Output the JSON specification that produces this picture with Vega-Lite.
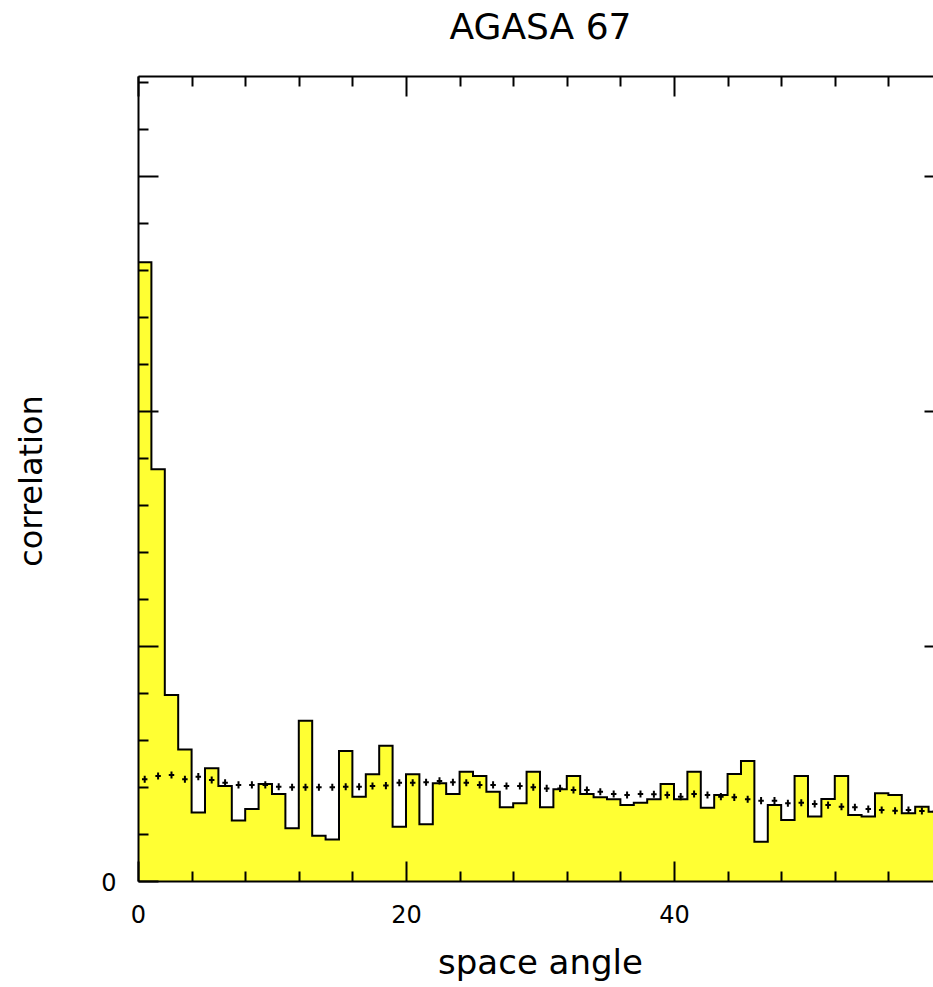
{
  "$schema": "https://vega.github.io/schema/vega-lite/v6.json",
  "autosize": "none",
  "width": 795,
  "height": 805,
  "padding": {"left": 138, "top": 76, "right": 0, "bottom": 106},
  "background": "white",
  "config": {"view": {"stroke": null}},
  "datasets": {
    "hist": [
      {"a": 0, "c": 2.633}, {"a": 1, "c": 1.752}, {"a": 2, "c": 0.791}, {"a": 3, "c": 0.560},
      {"a": 4, "c": 0.291}, {"a": 5, "c": 0.480}, {"a": 6, "c": 0.404}, {"a": 7, "c": 0.257},
      {"a": 8, "c": 0.306}, {"a": 9, "c": 0.413}, {"a": 10, "c": 0.370}, {"a": 11, "c": 0.224},
      {"a": 12, "c": 0.682}, {"a": 13, "c": 0.193}, {"a": 14, "c": 0.177}, {"a": 15, "c": 0.553},
      {"a": 16, "c": 0.359}, {"a": 17, "c": 0.454}, {"a": 18, "c": 0.576}, {"a": 19, "c": 0.231},
      {"a": 20, "c": 0.454}, {"a": 21, "c": 0.241}, {"a": 22, "c": 0.416}, {"a": 23, "c": 0.370},
      {"a": 24, "c": 0.465}, {"a": 25, "c": 0.447}, {"a": 26, "c": 0.380}, {"a": 27, "c": 0.314},
      {"a": 28, "c": 0.331}, {"a": 29, "c": 0.465}, {"a": 30, "c": 0.314}, {"a": 31, "c": 0.390},
      {"a": 32, "c": 0.447}, {"a": 33, "c": 0.370}, {"a": 34, "c": 0.356}, {"a": 35, "c": 0.348},
      {"a": 36, "c": 0.323}, {"a": 37, "c": 0.333}, {"a": 38, "c": 0.348}, {"a": 39, "c": 0.413},
      {"a": 40, "c": 0.348}, {"a": 41, "c": 0.465}, {"a": 42, "c": 0.312}, {"a": 43, "c": 0.366},
      {"a": 44, "c": 0.455}, {"a": 45, "c": 0.511}, {"a": 46, "c": 0.167}, {"a": 47, "c": 0.323},
      {"a": 48, "c": 0.260}, {"a": 49, "c": 0.447}, {"a": 50, "c": 0.274}, {"a": 51, "c": 0.349},
      {"a": 52, "c": 0.447}, {"a": 53, "c": 0.281}, {"a": 54, "c": 0.274}, {"a": 55, "c": 0.373},
      {"a": 56, "c": 0.366}, {"a": 57, "c": 0.288}, {"a": 58, "c": 0.316}, {"a": 59, "c": 0.295},
      {"a": 60, "c": 0.295}
    ],
    "bg": [
      {"m": 0.5, "v": 0.433}, {"m": 1.5, "v": 0.447}, {"m": 2.5, "v": 0.451}, {"m": 3.5, "v": 0.433},
      {"m": 4.5, "v": 0.444}, {"m": 5.5, "v": 0.430}, {"m": 6.5, "v": 0.418}, {"m": 7.5, "v": 0.409},
      {"m": 8.5, "v": 0.409}, {"m": 9.5, "v": 0.409}, {"m": 10.5, "v": 0.401}, {"m": 11.5, "v": 0.399},
      {"m": 12.5, "v": 0.399}, {"m": 13.5, "v": 0.399}, {"m": 14.5, "v": 0.399}, {"m": 15.5, "v": 0.401},
      {"m": 16.5, "v": 0.401}, {"m": 17.5, "v": 0.404}, {"m": 18.5, "v": 0.406}, {"m": 19.5, "v": 0.418},
      {"m": 20.5, "v": 0.418}, {"m": 21.5, "v": 0.420}, {"m": 22.5, "v": 0.426}, {"m": 23.5, "v": 0.420},
      {"m": 24.5, "v": 0.418}, {"m": 25.5, "v": 0.409}, {"m": 26.5, "v": 0.409}, {"m": 27.5, "v": 0.404},
      {"m": 28.5, "v": 0.404}, {"m": 29.5, "v": 0.399}, {"m": 30.5, "v": 0.394}, {"m": 31.5, "v": 0.394},
      {"m": 32.5, "v": 0.387}, {"m": 33.5, "v": 0.387}, {"m": 34.5, "v": 0.380}, {"m": 35.5, "v": 0.370},
      {"m": 36.5, "v": 0.366}, {"m": 37.5, "v": 0.370}, {"m": 38.5, "v": 0.369}, {"m": 39.5, "v": 0.366},
      {"m": 40.5, "v": 0.359}, {"m": 41.5, "v": 0.370}, {"m": 42.5, "v": 0.366}, {"m": 43.5, "v": 0.359},
      {"m": 44.5, "v": 0.356}, {"m": 45.5, "v": 0.348}, {"m": 46.5, "v": 0.342}, {"m": 47.5, "v": 0.342},
      {"m": 48.5, "v": 0.331}, {"m": 49.5, "v": 0.333}, {"m": 50.5, "v": 0.328}, {"m": 51.5, "v": 0.323},
      {"m": 52.5, "v": 0.316}, {"m": 53.5, "v": 0.314}, {"m": 54.5, "v": 0.306}, {"m": 55.5, "v": 0.302},
      {"m": 56.5, "v": 0.299}, {"m": 57.5, "v": 0.302}, {"m": 58.5, "v": 0.298}, {"m": 59.5, "v": 0.296}
    ]
  },
  "resolve": {"axis": {"x": "independent", "y": "independent"}},
  "layer": [
    {
      "data": {"name": "hist"},
      "mark": {"type": "area", "interpolate": "step-after", "fill": "#ffff33", "clip": true},
      "encoding": {
        "x": {
          "field": "a", "type": "quantitative",
          "scale": {"domain": [0, 59.33], "nice": false, "zero": false},
          "axis": {
            "orient": "bottom", "zindex": 1, "grid": false,
            "values": [0, 4, 8, 12, 16, 20, 24, 28, 32, 36, 40, 44, 48, 52, 56],
            "tickSize": {"condition": {"test": "datum.value % 20 === 0", "value": -20}, "value": -10},
            "tickWidth": 2, "tickColor": "black",
            "domain": true, "domainWidth": 2, "domainColor": "black",
            "labelExpr": "datum.value % 20 === 0 ? datum.label : ''",
            "labelFlush": false, "labelOverlap": false, "labelBound": false,
            "labelFont": "DejaVu Sans", "labelFontSize": 24, "labelColor": "black",
            "labelPadding": 42, "labelBaseline": "top", "labelAlign": "center",
            "title": "space angle", "titleFont": "DejaVu Sans", "titleFontSize": 34, "titleFontWeight": "normal",
            "titleColor": "black", "titleX": 402, "titleY": 92.5, "titleBaseline": "alphabetic", "titleAlign": "center"
          }
        },
        "y": {
          "field": "c", "type": "quantitative",
          "scale": {"domain": [0, 3.4255], "nice": false, "zero": false},
          "axis": {
            "orient": "left", "zindex": 1, "grid": false,
            "values": [0, 0.2, 0.4, 0.6, 0.8, 1, 1.2, 1.4, 1.6, 1.8, 2, 2.2, 2.4, 2.6, 2.8, 3, 3.2, 3.4],
            "tickSize": {"condition": {"test": "abs(datum.value - round(datum.value)) < 0.001", "value": -20}, "value": -10},
            "tickWidth": 2, "tickColor": "black",
            "domain": true, "domainWidth": 2, "domainColor": "black",
            "labelExpr": "datum.value === 0 ? '0' : ''",
            "labelFlush": false, "labelOverlap": false, "labelBound": false,
            "labelFont": "DejaVu Sans", "labelFontSize": 24, "labelColor": "black",
            "labelPadding": 42, "labelOffset": 2,
            "title": "correlation", "titleFont": "DejaVu Sans", "titleFontSize": 32, "titleFontWeight": "normal",
            "titleColor": "black", "titleX": -96.3, "titleY": 404.5, "titleAngle": 270,
            "titleBaseline": "alphabetic", "titleAlign": "center"
          }
        }
      }
    },
    {
      "data": {"name": "hist"},
      "mark": {"type": "line", "interpolate": "step-after", "color": "black", "strokeWidth": 2, "clip": true},
      "encoding": {
        "x": {
          "field": "a", "type": "quantitative",
          "scale": {"domain": [0, 59.33], "nice": false, "zero": false},
          "axis": {
            "orient": "top", "zindex": 1, "grid": false,
            "values": [0, 4, 8, 12, 16, 20, 24, 28, 32, 36, 40, 44, 48, 52, 56],
            "tickSize": {"condition": {"test": "datum.value % 20 === 0", "value": -20}, "value": -10},
            "tickWidth": 2, "tickColor": "black",
            "domain": true, "domainWidth": 2, "domainColor": "black",
            "labels": false,
            "title": "AGASA 67", "titleFont": "DejaVu Sans", "titleFontSize": 36, "titleFontWeight": "normal",
            "titleColor": "black", "titleX": 402, "titleY": -37.7, "titleBaseline": "alphabetic", "titleAlign": "center"
          }
        },
        "y": {
          "field": "c", "type": "quantitative",
          "scale": {"domain": [0, 3.4255], "nice": false, "zero": false},
          "axis": {
            "orient": "right", "zindex": 1, "grid": false,
            "values": [1, 2, 3],
            "tickSize": -9, "tickWidth": 2, "tickColor": "black",
            "domain": false, "labels": false, "title": null
          }
        }
      }
    },
    {
      "data": {"name": "bg"},
      "mark": {"type": "point", "shape": "M-1,0L1,0M0,-1.3L0,1.3", "size": 30, "filled": false, "color": "black", "strokeWidth": 2, "opacity": 1, "clip": true},
      "encoding": {
        "x": {"field": "m", "type": "quantitative", "scale": {"domain": [0, 59.33], "nice": false, "zero": false}, "axis": null},
        "y": {"field": "v", "type": "quantitative", "scale": {"domain": [0, 3.4255], "nice": false, "zero": false}, "axis": null}
      }
    }
  ]
}
